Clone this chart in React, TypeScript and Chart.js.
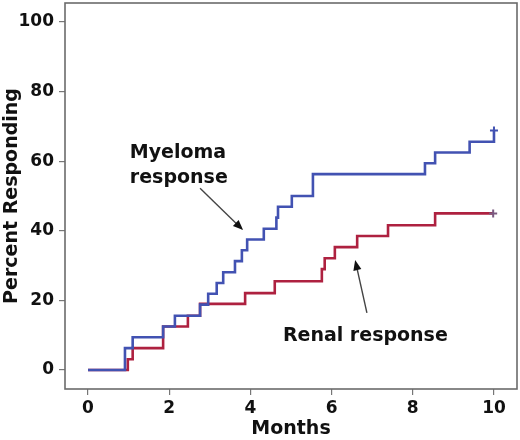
import { useEffect, useRef } from 'react';
import Chart from 'chart.js/auto';

// Kaplan-Meier style cumulative response curves (time in months, % responding)
const myelomaMonths = [0, 0.91, 1.1, 1.85, 2.14, 2.76, 2.96, 3.17, 3.33, 3.62, 3.79, 3.92, 4.33, 4.64, 4.68, 5.02, 5.54, 8.3, 8.55, 9.4, 10.0];
const myelomaPct = [0, 6.3, 9.4, 12.5, 15.6, 18.8, 21.9, 25.0, 28.1, 31.3, 34.4, 37.5, 40.6, 43.8, 46.9, 50.0, 56.3, 59.4, 62.5, 65.6, 68.8];

const renalMonths = [0, 0.98, 1.1, 1.85, 2.46, 2.76, 3.87, 4.6, 5.76, 5.83, 6.08, 6.63, 7.39, 8.55, 9.98];
const renalPct = [0, 3.1, 6.3, 12.5, 15.6, 19.0, 22.1, 25.5, 29.0, 32.1, 35.3, 38.5, 41.6, 45.0, 45.0];

const monthTicks = [0, 2, 4, 6, 8, 10];
const pctTicks = [0, 20, 40, 60, 80, 100];

const FONT = '"DejaVu Sans", Verdana, sans-serif';

// labels and arrows, placed in data units
const notes = [
  { lines: ['Myeloma', 'response'], x: 1.03, y: 60.9, arrow: { from: [2.76, 52.2], to: [3.82, 40.2] } },
  { lines: ['Renal response'], x: 4.8, y: 8.3, arrow: { from: [6.87, 16.4], to: [6.58, 31.6] } },
];

const notesPlugin = {
  id: 'notes',
  afterDatasetsDraw(chart: any) {
    const { ctx, chartArea, scales } = chart;
    const xs = scales.x;
    const ys = scales.y;
    ctx.save();
    // frame
    ctx.strokeStyle = '#6b6b6b';
    ctx.lineWidth = 1.6;
    ctx.strokeRect(chartArea.left, chartArea.top, chartArea.right - chartArea.left, chartArea.bottom - chartArea.top);

    ctx.font = `bold 19px ${FONT}`;
    ctx.textAlign = 'left';
    ctx.textBaseline = 'alphabetic';
    notes.forEach(n => {
      const px = xs.getPixelForValue(n.x);
      const py = ys.getPixelForValue(n.y);
      ctx.fillStyle = '#111';
      n.lines.forEach((t, i) => ctx.fillText(t, px, py + i * 25));

      const x1 = xs.getPixelForValue(n.arrow.from[0]);
      const y1 = ys.getPixelForValue(n.arrow.from[1]);
      const x2 = xs.getPixelForValue(n.arrow.to[0]);
      const y2 = ys.getPixelForValue(n.arrow.to[1]);
      const ang = Math.atan2(y2 - y1, x2 - x1);
      const head = 11;
      ctx.strokeStyle = '#444';
      ctx.lineWidth = 1.4;
      ctx.beginPath();
      ctx.moveTo(x1, y1);
      ctx.lineTo(x2 - Math.cos(ang) * head * 0.8, y2 - Math.sin(ang) * head * 0.8);
      ctx.stroke();
      ctx.fillStyle = '#111';
      ctx.beginPath();
      ctx.moveTo(x2, y2);
      ctx.lineTo(x2 - head * Math.cos(ang - 0.38), y2 - head * Math.sin(ang - 0.38));
      ctx.lineTo(x2 - head * Math.cos(ang + 0.38), y2 - head * Math.sin(ang + 0.38));
      ctx.closePath();
      ctx.fill();
    });
    ctx.restore();
  },
};

export default function App() {
  const chartRef = useRef<HTMLCanvasElement>(null);
  const chartInstance = useRef<Chart | null>(null);

  useEffect(() => {
    document.body.style.margin = '0';
    if (chartRef.current) {
      if (chartInstance.current) {
        chartInstance.current.destroy();
      }
      const ctx = chartRef.current.getContext('2d');
      if (ctx) {
        const lastMarker = (n: number) => (c: any) => (c.dataIndex === n - 1 ? 4 : 0);
        chartInstance.current = new Chart(ctx, {
          type: 'line',
          data: {
            datasets: [
              {
                label: 'Myeloma response',
                data: myelomaMonths.map((m, i) => ({ x: m, y: myelomaPct[i] })),
                borderColor: '#4252b2',
                borderWidth: 2.6,
                stepped: 'before',
                pointStyle: 'cross',
                pointRadius: lastMarker(myelomaMonths.length),
                pointBorderColor: '#4252b2',
                pointBorderWidth: 2,
              },
              {
                label: 'Renal response',
                data: renalMonths.map((m, i) => ({ x: m, y: renalPct[i] })),
                borderColor: '#ae2140',
                borderWidth: 2.6,
                stepped: 'before',
                pointStyle: 'cross',
                pointRadius: lastMarker(renalMonths.length),
                pointBorderColor: '#7a5a80',
                pointBorderWidth: 2,
              },
            ],
          },
          options: {
            responsive: false,
            animation: false,
            layout: { autoPadding: false, padding: { top: 3, right: 3, left: 0, bottom: 0 } },
            plugins: { legend: { display: false }, tooltip: { enabled: false } },
            scales: {
              x: {
                type: 'linear',
                min: -0.567,
                max: 10.567,
                afterBuildTicks: (s: any) => { s.ticks = monthTicks.map(v => ({ value: v })); },
                afterFit: (s: any) => { s.height = 51; s.paddingLeft = 0; s.paddingRight = 0; },
                grid: { drawOnChartArea: false, tickLength: 6, color: '#777', lineWidth: 1.2 },
                border: { display: false },
                ticks: { color: '#111', font: { family: FONT, size: 17, weight: 'bold' }, padding: 3, maxRotation: 0 },
                title: { display: true, text: 'Months', color: '#111', font: { family: FONT, size: 19, weight: 'bold' }, padding: { top: 0, bottom: 0 } },
              },
              y: {
                min: -5.46,
                max: 105.46,
                afterBuildTicks: (s: any) => { s.ticks = pctTicks.map(v => ({ value: v })); },
                afterFit: (s: any) => { s.width = 65; s.paddingTop = 0; s.paddingBottom = 0; },
                grid: { drawOnChartArea: false, tickLength: 6, color: '#777', lineWidth: 1.2 },
                border: { display: false },
                ticks: { color: '#111', font: { family: FONT, size: 17, weight: 'bold' }, padding: 5 },
                title: { display: true, text: 'Percent Responding', color: '#111', font: { family: FONT, size: 19, weight: 'bold' }, padding: { top: 1, bottom: 0 } },
              },
            },
          },
          plugins: [notesPlugin],
        });
      }
    }

    return () => {
      if (chartInstance.current) {
        chartInstance.current.destroy();
        chartInstance.current = null;
      }
    };
  }, []);

  return <canvas ref={chartRef} width={520} height={440} style={{ display: 'block' }} />;
}
